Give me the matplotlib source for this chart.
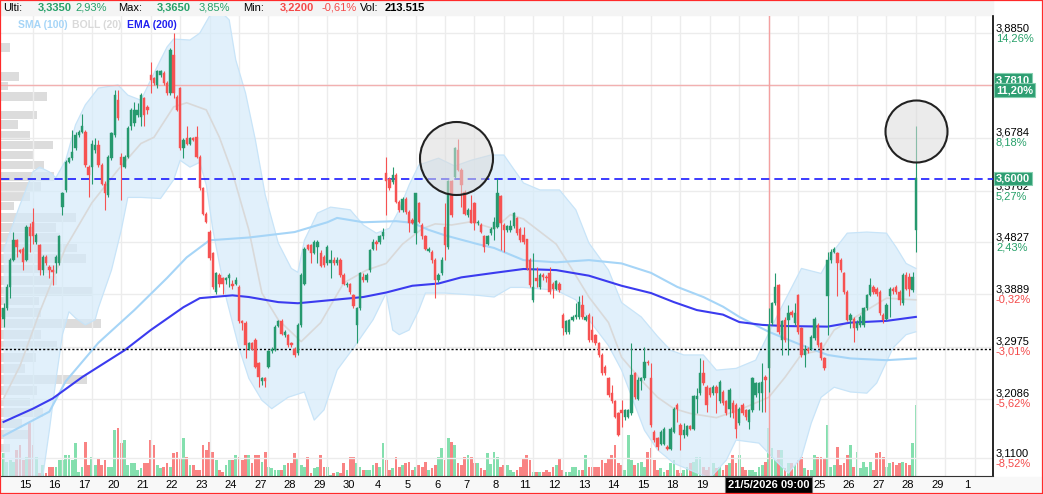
import numpy as np
import matplotlib
matplotlib.use("Agg")
import matplotlib.pyplot as plt
import matplotlib.transforms as mtransforms
from matplotlib.patches import Rectangle
from matplotlib.ticker import NullLocator

plt.rcParams['font.family'] = ['Liberation Sans', 'DejaVu Sans']

W, H = 1043, 494

# hourly candles, 9 bars per session; the first bar sits 9 bars before the "15" session
first_bar = -9
bars_per_day = 9

opens = [
    3.346, 3.364, 3.402, 3.450, 3.486, 3.468, 3.471, 3.450, 3.511,
    3.520, 3.483, 3.477, 3.432, 3.456, 3.437, 3.433, 3.444, 3.444,
    3.548, 3.579, 3.632, 3.639, 3.658, 3.683, 3.690, 3.690, 3.623,
    3.623, 3.655, 3.664, 3.626, 3.591, 3.570, 3.639, 3.683, 3.751,
    3.642, 3.623, 3.642, 3.700, 3.706, 3.722, 3.719, 3.755, 3.738,
    3.801, 3.794, 3.781, 3.801, 3.804, 3.784, 3.765, 3.841, 3.758,
    3.775, 3.658, 3.677, 3.667, 3.677, 3.680, 3.642, 3.582, 3.535,
    3.502, 3.462, 3.393, 3.423, 3.417, 3.414, 3.417, 3.408, 3.408,
    3.402, 3.341, 3.338, 3.294, 3.304, 3.309, 3.269, 3.239, 3.243,
    3.263, 3.289, 3.291, 3.333, 3.342, 3.317, 3.317, 3.304, 3.294,
    3.286, 3.335, 3.408, 3.477, 3.477, 3.463, 3.474, 3.463, 3.456,
    3.444, 3.444, 3.451, 3.444, 3.451, 3.423, 3.405, 3.407, 3.387,
    3.335, 3.364, 3.420, 3.414, 3.432, 3.471, 3.483, 3.483, 3.493,
    3.610, 3.599, 3.593, 3.607, 3.557, 3.542, 3.563, 3.538, 3.523,
    3.499, 3.554, 3.514, 3.493, 3.467, 3.465, 3.450, 3.414, 3.427,
    3.511, 3.474, 3.595, 3.604, 3.655, 3.617, 3.576, 3.532, 3.542,
    3.554, 3.517, 3.514, 3.493, 3.480, 3.499, 3.506, 3.511, 3.568,
    3.514, 3.505, 3.505, 3.512, 3.526, 3.506, 3.496, 3.488, 3.450,
    3.378, 3.417, 3.402, 3.423, 3.420, 3.426, 3.408, 3.399, 3.408,
    3.352, 3.323, 3.323, 3.344, 3.348, 3.349, 3.370, 3.344, 3.352,
    3.326, 3.317, 3.303, 3.283, 3.263, 3.243, 3.218, 3.204, 3.184,
    3.190, 3.178, 3.178, 3.184, 3.252, 3.209, 3.239, 3.243, 3.271,
    3.243, 3.154, 3.143, 3.134, 3.134, 3.129, 3.126, 3.154, 3.198,
    3.165, 3.148, 3.148, 3.163, 3.159, 3.209, 3.218, 3.252, 3.229,
    3.226, 3.218, 3.229, 3.204, 3.220, 3.204, 3.192, 3.201, 3.198,
    3.168, 3.198, 3.190, 3.170, 3.190, 3.215, 3.218, 3.218, 3.246,
    3.260, 3.338, 3.373, 3.405, 3.309, 3.344, 3.344, 3.358, 3.338,
    3.387, 3.329, 3.283, 3.294, 3.294, 3.312, 3.335, 3.303, 3.277,
    3.385, 3.450, 3.465, 3.462, 3.450, 3.426, 3.393, 3.344, 3.346,
    3.329, 3.335, 3.335, 3.364, 3.387, 3.402, 3.399, 3.393, 3.352,
    3.346, 3.385, 3.399, 3.402, 3.393, 3.373, 3.423, 3.420, 3.396,
    3.505,
]
highs = [
    3.373, 3.408, 3.453, 3.502, 3.489, 3.471, 3.474, 3.514, 3.517,
    3.545, 3.499, 3.480, 3.459, 3.459, 3.441, 3.441, 3.459, 3.496,
    3.576, 3.636, 3.642, 3.693, 3.690, 3.693, 3.725, 3.693, 3.626,
    3.674, 3.677, 3.674, 3.629, 3.595, 3.645, 3.690, 3.771, 3.771,
    3.648, 3.645, 3.700, 3.735, 3.748, 3.745, 3.765, 3.758, 3.742,
    3.827, 3.797, 3.811, 3.811, 3.808, 3.788, 3.854, 3.885, 3.761,
    3.778, 3.677, 3.700, 3.680, 3.680, 3.700, 3.645, 3.585, 3.538,
    3.505, 3.465, 3.429, 3.426, 3.420, 3.420, 3.426, 3.414, 3.420,
    3.405, 3.344, 3.341, 3.306, 3.306, 3.312, 3.271, 3.246, 3.246,
    3.291, 3.297, 3.335, 3.344, 3.346, 3.326, 3.320, 3.306, 3.297,
    3.338, 3.426, 3.474, 3.480, 3.480, 3.486, 3.486, 3.468, 3.459,
    3.477, 3.468, 3.456, 3.456, 3.453, 3.426, 3.411, 3.409, 3.390,
    3.367, 3.429, 3.426, 3.426, 3.471, 3.489, 3.486, 3.496, 3.508,
    3.642, 3.604, 3.623, 3.610, 3.560, 3.566, 3.566, 3.542, 3.526,
    3.574, 3.557, 3.517, 3.496, 3.474, 3.468, 3.453, 3.426, 3.456,
    3.554, 3.598, 3.598, 3.661, 3.675, 3.620, 3.579, 3.545, 3.570,
    3.557, 3.523, 3.517, 3.496, 3.496, 3.511, 3.529, 3.601, 3.570,
    3.517, 3.514, 3.523, 3.538, 3.529, 3.511, 3.511, 3.489, 3.453,
    3.462, 3.438, 3.426, 3.426, 3.423, 3.437, 3.411, 3.414, 3.411,
    3.355, 3.344, 3.346, 3.352, 3.373, 3.385, 3.388, 3.352, 3.355,
    3.351, 3.320, 3.306, 3.286, 3.266, 3.246, 3.232, 3.206, 3.187,
    3.206, 3.192, 3.192, 3.303, 3.254, 3.246, 3.246, 3.297, 3.274,
    3.269, 3.156, 3.145, 3.156, 3.162, 3.132, 3.162, 3.195, 3.201,
    3.168, 3.168, 3.165, 3.165, 3.215, 3.226, 3.277, 3.274, 3.232,
    3.229, 3.232, 3.232, 3.240, 3.223, 3.206, 3.226, 3.206, 3.201,
    3.195, 3.201, 3.192, 3.192, 3.246, 3.237, 3.237, 3.269, 3.249,
    3.365, 3.376, 3.426, 3.408, 3.344, 3.349, 3.370, 3.361, 3.373,
    3.390, 3.332, 3.300, 3.297, 3.317, 3.349, 3.338, 3.306, 3.280,
    3.465, 3.471, 3.474, 3.465, 3.453, 3.429, 3.396, 3.355, 3.349,
    3.344, 3.352, 3.367, 3.390, 3.417, 3.405, 3.402, 3.396, 3.355,
    3.373, 3.402, 3.402, 3.405, 3.396, 3.426, 3.429, 3.426, 3.429,
    3.700,
]
lows = [
    3.332, 3.361, 3.382, 3.448, 3.456, 3.462, 3.432, 3.448, 3.465,
    3.480, 3.480, 3.423, 3.423, 3.441, 3.417, 3.405, 3.426, 3.441,
    3.532, 3.576, 3.629, 3.636, 3.655, 3.680, 3.687, 3.623, 3.566,
    3.591, 3.648, 3.623, 3.588, 3.542, 3.566, 3.636, 3.680, 3.712,
    3.560, 3.620, 3.639, 3.693, 3.700, 3.719, 3.700, 3.700, 3.725,
    3.765, 3.781, 3.775, 3.797, 3.781, 3.761, 3.761, 3.755, 3.729,
    3.655, 3.639, 3.664, 3.664, 3.671, 3.639, 3.579, 3.532, 3.517,
    3.450, 3.399, 3.390, 3.402, 3.390, 3.408, 3.402, 3.399, 3.405,
    3.338, 3.326, 3.277, 3.291, 3.291, 3.260, 3.229, 3.232, 3.229,
    3.260, 3.286, 3.289, 3.331, 3.317, 3.314, 3.297, 3.297, 3.280,
    3.283, 3.332, 3.405, 3.468, 3.444, 3.461, 3.444, 3.437, 3.438,
    3.441, 3.417, 3.441, 3.441, 3.420, 3.405, 3.402, 3.390, 3.365,
    3.303, 3.361, 3.411, 3.411, 3.429, 3.468, 3.468, 3.480, 3.489,
    3.532, 3.579, 3.591, 3.554, 3.538, 3.538, 3.535, 3.502, 3.516,
    3.480, 3.517, 3.489, 3.468, 3.465, 3.444, 3.382, 3.411, 3.423,
    3.450, 3.471, 3.529, 3.601, 3.614, 3.548, 3.532, 3.529, 3.517,
    3.505, 3.514, 3.499, 3.465, 3.477, 3.496, 3.486, 3.508, 3.468,
    3.465, 3.502, 3.502, 3.508, 3.496, 3.483, 3.480, 3.432, 3.402,
    3.376, 3.402, 3.399, 3.414, 3.411, 3.390, 3.382, 3.396, 3.393,
    3.317, 3.320, 3.320, 3.341, 3.346, 3.346, 3.346, 3.341, 3.306,
    3.306, 3.300, 3.280, 3.249, 3.249, 3.212, 3.201, 3.176, 3.146,
    3.162, 3.173, 3.176, 3.181, 3.209, 3.206, 3.223, 3.240, 3.266,
    3.162, 3.137, 3.124, 3.132, 3.132, 3.124, 3.124, 3.151, 3.170,
    3.124, 3.143, 3.146, 3.156, 3.156, 3.184, 3.215, 3.232, 3.187,
    3.212, 3.215, 3.184, 3.201, 3.198, 3.181, 3.178, 3.176, 3.143,
    3.165, 3.181, 3.173, 3.159, 3.187, 3.212, 3.190, 3.187, 3.187,
    3.220, 3.335, 3.370, 3.320, 3.283, 3.306, 3.283, 3.349, 3.335,
    3.320, 3.280, 3.263, 3.286, 3.291, 3.309, 3.297, 3.274, 3.257,
    3.317, 3.444, 3.462, 3.385, 3.429, 3.390, 3.341, 3.329, 3.306,
    3.326, 3.332, 3.332, 3.361, 3.385, 3.390, 3.385, 3.352, 3.338,
    3.344, 3.349, 3.390, 3.390, 3.370, 3.370, 3.396, 3.385, 3.393,
    3.465,
]
closes = [
    3.364, 3.402, 3.450, 3.486, 3.474, 3.464, 3.447, 3.511, 3.493,
    3.493, 3.496, 3.432, 3.456, 3.444, 3.432, 3.429, 3.456, 3.493,
    3.573, 3.632, 3.639, 3.651, 3.683, 3.690, 3.700, 3.626, 3.607,
    3.667, 3.664, 3.626, 3.591, 3.573, 3.642, 3.687, 3.761, 3.716,
    3.626, 3.642, 3.696, 3.732, 3.732, 3.732, 3.761, 3.722, 3.732,
    3.791, 3.784, 3.808, 3.808, 3.784, 3.765, 3.851, 3.765, 3.732,
    3.658, 3.674, 3.667, 3.677, 3.674, 3.642, 3.582, 3.535, 3.520,
    3.453, 3.402, 3.426, 3.408, 3.408, 3.417, 3.423, 3.404, 3.414,
    3.341, 3.338, 3.300, 3.303, 3.294, 3.263, 3.246, 3.243, 3.239,
    3.289, 3.293, 3.332, 3.341, 3.320, 3.323, 3.300, 3.300, 3.283,
    3.335, 3.423, 3.471, 3.471, 3.463, 3.483, 3.483, 3.439, 3.441,
    3.474, 3.450, 3.444, 3.451, 3.423, 3.408, 3.408, 3.393, 3.368,
    3.364, 3.426, 3.414, 3.423, 3.468, 3.483, 3.480, 3.493, 3.502,
    3.595, 3.582, 3.607, 3.557, 3.542, 3.563, 3.538, 3.518, 3.518,
    3.573, 3.520, 3.493, 3.471, 3.471, 3.450, 3.414, 3.423, 3.451,
    3.477, 3.595, 3.532, 3.658, 3.617, 3.588, 3.535, 3.542, 3.518,
    3.518, 3.520, 3.502, 3.474, 3.493, 3.506, 3.520, 3.573, 3.518,
    3.505, 3.512, 3.512, 3.537, 3.499, 3.486, 3.483, 3.435, 3.405,
    3.402, 3.413, 3.423, 3.419, 3.417, 3.393, 3.399, 3.413, 3.396,
    3.329, 3.341, 3.344, 3.349, 3.352, 3.376, 3.349, 3.349, 3.309,
    3.309, 3.303, 3.283, 3.252, 3.252, 3.215, 3.204, 3.178, 3.148,
    3.184, 3.190, 3.190, 3.249, 3.212, 3.240, 3.243, 3.271, 3.269,
    3.165, 3.140, 3.129, 3.154, 3.159, 3.126, 3.159, 3.192, 3.192,
    3.148, 3.156, 3.163, 3.159, 3.213, 3.213, 3.252, 3.235, 3.198,
    3.215, 3.229, 3.218, 3.237, 3.201, 3.184, 3.223, 3.184, 3.159,
    3.192, 3.184, 3.178, 3.190, 3.243, 3.235, 3.235, 3.237, 3.240,
    3.335, 3.373, 3.402, 3.323, 3.341, 3.309, 3.355, 3.352, 3.355,
    3.323, 3.283, 3.294, 3.289, 3.314, 3.346, 3.300, 3.277, 3.260,
    3.450, 3.465, 3.471, 3.444, 3.432, 3.393, 3.344, 3.352, 3.329,
    3.338, 3.349, 3.364, 3.387, 3.405, 3.393, 3.390, 3.355, 3.344,
    3.370, 3.399, 3.395, 3.393, 3.379, 3.423, 3.399, 3.399, 3.420,
    3.601,
]
# volume in thousands
volumes = [
    104, 63, 72, 63, 117, 140, 72, 86, 239, 140, 86, 14, 50, 14, 41, 41, 41, 72, 72, 95,
    95, 72, 149, 18, 41, 153, 50, 86, 50, 81, 50, 72, 41, 41, 207, 216, 149, 162, 50, 59,
    59, 27, 36, 59, 59, 162, 140, 50, 36, 41, 59, 41, 104, 108, 81, 171, 86, 50, 50, 27,
    27, 140, 117, 153, 108, 72, 27, 18, 50, 72, 72, 95, 86, 72, 95, 95,
    59, 95, 95, 63, 108, 41, 36, 27, 27, 27, 50, 59, 59, 104, 81, 50, 41, 86, 14, 36,
    41, 95, 41, 41, 5, 14, 18, 14, 59, 27, 86, 86, 59, 41, 27, 27, 27, 50, 59, 41,
    149, 72, 27, 36, 86, 41, 50, 59, 63, 27, 41, 50, 41, 63, 27, 36, 50, 86, 126, 72,
    171, 153, 140, 59, 50, 86, 95, 86, 59, 59, 36, 27, 104,
    54, 108, 86, 41, 50, 50, 27, 18, 27, 41, 81, 95, 72, 18, 18, 18, 18, 27, 18, 41,
    50, 81, 27, 18, 18, 41, 41, 27, 27, 95, 41, 41, 41, 41, 72, 59, 81, 95, 140, 59,
    50, 27, 185, 72, 50, 59, 63, 41, 108, 126, 72, 27, 36, 18, 27, 59, 72, 27, 14, 27,
    41, 59, 63, 86, 86, 41, 27, 41, 59, 36, 41, 27, 50, 59, 95,
    60,
    95, 41, 27, 27, 27, 18, 41, 50, 63, 214, 126, 72, 117, 117, 36, 59, 59, 50, 72, 86,
    36, 27, 27, 95, 86, 86, 81, 230,
    41, 50, 131, 50, 59, 95, 140, 41, 108, 36, 63, 41, 63, 27, 104, 108, 86, 41, 59, 63,
    50, 59, 63, 59, 50, 149, 320,
]

# indicators, read at bar positions
boll_up_x = [-9, -4, 0, 2, 5, 7, 10, 13, 16, 20, 26, 29, 33, 36, 39, 41, 43, 48, 51, 54,
             57, 60, 62, 65, 68, 71, 75, 79, 81, 83, 87, 91, 97, 101, 105, 109, 112, 115,
             118, 124, 129, 134, 140, 144, 150, 155, 161, 166, 170, 176, 180, 186, 191,
             195, 199, 205, 209, 215, 221, 228, 235, 241, 245, 249, 255, 261, 264, 267, 270]
boll_up = [3.468, 3.551, 3.613, 3.622, 3.613, 3.602, 3.635, 3.703, 3.742, 3.775, 3.781,
           3.761, 3.751, 3.791, 3.831, 3.857, 3.873, 3.871, 3.885, 3.920, 3.932, 3.912,
           3.831, 3.765, 3.674, 3.570, 3.481, 3.435, 3.428, 3.486, 3.536, 3.547, 3.542,
           3.514, 3.499, 3.508, 3.542, 3.588, 3.626, 3.639, 3.624, 3.635, 3.645, 3.645,
           3.592, 3.579, 3.579, 3.542, 3.481, 3.432, 3.374, 3.349, 3.315, 3.291, 3.283,
           3.283, 3.257, 3.260, 3.274, 3.356, 3.435, 3.426, 3.468, 3.499, 3.501, 3.499,
           3.473, 3.444, 3.435]
boll_low_x = [-9, -1, 3, 5, 7, 9, 11, 13, 16, 19, 20, 24, 27, 29, 33, 39, 43, 45, 48, 51,
              53, 55, 59, 63, 66, 70, 73, 78, 83, 86, 89, 93, 98, 104, 108, 110, 112, 115,
              118, 120, 126, 136, 141, 146, 150, 160, 166, 170, 176, 180, 187, 191, 196,
              201, 207, 212, 215, 222, 227, 231, 235, 238, 241, 245, 250, 255, 258, 263,
              267, 270]
boll_low = [2.949, 3.011, 3.081, 3.156, 3.240, 3.318, 3.358, 3.347, 3.335, 3.344, 3.365,
            3.432, 3.505, 3.565, 3.565, 3.563, 3.598, 3.635, 3.622, 3.631, 3.588, 3.505,
            3.384, 3.295, 3.243, 3.206, 3.192, 3.211, 3.220, 3.173, 3.190, 3.257, 3.295,
            3.344, 3.391, 3.326, 3.318, 3.326, 3.361, 3.391, 3.391, 3.387, 3.384, 3.401,
            3.401, 3.396, 3.379, 3.344, 3.299, 3.257, 3.156, 3.124, 3.102, 3.091, 3.078,
            3.107, 3.140, 3.135, 3.107, 3.086, 3.112, 3.168, 3.211, 3.228, 3.220, 3.218,
            3.235, 3.295, 3.318, 3.323]
boll_mid_x = [-9, -4, 2, 10, 18, 26, 33, 37, 43, 47, 53, 57, 61, 66, 70, 75, 82, 88, 95,
              102, 108, 113, 119, 123, 128, 134, 141, 146, 150, 160, 165, 170, 176, 180,
              186, 191, 196, 201, 209, 216, 225, 230, 235, 241, 245, 255, 261, 270]
boll_mid = [3.209, 3.264, 3.357, 3.473, 3.555, 3.617, 3.667, 3.679, 3.738, 3.746, 3.732,
            3.679, 3.611, 3.505, 3.391, 3.344, 3.306, 3.339, 3.409, 3.432, 3.444, 3.479,
            3.507, 3.516, 3.514, 3.520, 3.507, 3.533, 3.525, 3.479, 3.432, 3.384, 3.339,
            3.279, 3.240, 3.211, 3.192, 3.184, 3.177, 3.190, 3.211, 3.245, 3.284, 3.291,
            3.326, 3.361, 3.382, 3.379]
sma_x = [-9, 5, 10, 20, 31, 41, 47, 54, 66, 80, 90, 93, 101, 111, 116, 121, 126, 136, 141,
         150, 160, 170, 180, 189, 197, 205, 211, 216, 225, 235, 243, 250, 261, 270]
sma = [3.147, 3.187, 3.238, 3.304, 3.361, 3.418, 3.455, 3.486, 3.491, 3.501, 3.519, 3.527,
       3.519, 3.521, 3.518, 3.505, 3.495, 3.479, 3.472, 3.450, 3.446, 3.450, 3.444, 3.427,
       3.402, 3.384, 3.367, 3.349, 3.323, 3.300, 3.283, 3.277, 3.274, 3.277]
ema_x = [-9, 0, 6, 15, 28, 36, 46, 51, 61, 66, 75, 81, 101, 108, 116, 124, 131, 141, 150,
         160, 170, 180, 189, 196, 203, 211, 216, 223, 230, 243, 250, 261, 270]
ema = [3.170, 3.192, 3.209, 3.245, 3.291, 3.326, 3.366, 3.382, 3.387, 3.384, 3.375, 3.373,
       3.384, 3.392, 3.404, 3.408, 3.419, 3.427, 3.434, 3.432, 3.422, 3.404, 3.391, 3.375,
       3.361, 3.353, 3.340, 3.335, 3.333, 3.332, 3.339, 3.342, 3.349]

# volume profile on the left edge
profile_price = [3.856, 3.798, 3.779, 3.758, 3.722, 3.703, 3.683, 3.664, 3.645, 3.626,
                 3.605, 3.585, 3.567, 3.549, 3.528, 3.509, 3.491, 3.472, 3.453, 3.434,
                 3.413, 3.394, 3.377, 3.357, 3.337, 3.318, 3.299, 3.279, 3.260, 3.241,
                 3.222, 3.203, 3.185, 3.167, 3.149, 3.127]
profile_vol = [9, 18, 7, 46, 36, 17, 29, 52, 32, 43, 53, 40, 29, 13, 75, 55, 59, 76, 85,
               57, 56, 92, 38, 40, 100, 40, 56, 35, 24, 86, 36, 29, 42, 21, 29, 9]

# session labels, one per session start
day_labels = ["15", "16", "17", "20", "21", "22", "23", "24", "27", "28", "29", "30",
              "4", "5", "6", "7", "8", "11", "12", "13", "14", "15", "18", "19",
              "20", "21", "22", "25", "26", "27", "28", "29", "1"]

price_ticks = [3.8850, 3.7810, 3.6784, 3.5762, 3.4827, 3.3889, 3.2975, 3.2086, 3.1100]
price_labels = ["3,8850", "3,7810", "3,6784", "3,5762", "3,4827", "3,3889", "3,2975",
                "3,2086", "3,1100"]
pct_labels = ["14,26%", "11,20%", "8,18%", "5,27%", "2,43%", "-0,32%", "-3,01%",
              "-5,62%", "-8,52%"]

ref_line = 3.7810
target_line = 3.6000
prev_line = 3.293
crosshair_bar = 225
crosshair_label = "21/5/2026 09:00"
circle_x = [129.4, 270]
circle_y = [3.639, 3.691]

GREEN = '#26996e'
RED = '#f65252'
VGREEN = '#84dfae'
VRED = '#f98383'
TXT_GREEN = '#26a069'
TXT_RED = '#f44a4a'
BOX = '#2e9e72'

fig = plt.figure(figsize=(W / 100, H / 100), dpi=100)
fig.patch.set_facecolor('white')


def fx(px):
    return px / W


def fy(py):
    return 1 - py / H


fig.patches.append(Rectangle((0, fy(15)), fx(993), 15 / H, transform=fig.transFigure,
                             color='#f4f4f4', zorder=0))
fig.patches.append(Rectangle((0, 0), 1, 17 / H, transform=fig.transFigure,
                             color='#f8f8f8', zorder=0))

pos = [fx(1), 18 / H, 992 / W, 460 / H]
ax = fig.add_axes(pos)
ax.set_yscale('log')
ax.set_ylim(3.0815, 3.920)
ax.set_xlim(-9.79, 293.58)

axp = fig.add_axes(pos, sharey=ax)
axv = fig.add_axes(pos, sharex=ax)
axp.set_zorder(0)
axv.set_zorder(1)
ax.set_zorder(2)
ax.patch.set_visible(False)
axv.patch.set_visible(False)

# volume profile
axp.barh(profile_price, profile_vol, height=[p * 0.0046 for p in profile_price],
         left=0, color='#dcdcdc')
axp.set_xlim(0, 992)
axp.axis('off')

idx = np.arange(len(closes)) + first_bar
o, hi, lo, c = map(np.array, (opens, highs, lows, closes))
up = c >= o

# volume bars
axv.bar(idx, volumes, width=0.85, color=np.where(up, VGREEN, VRED))
axv.set_ylim(0, 460 * 4.5)
axv.axis('off')

# grid and session labels (the ones under the crosshair tag are hidden by it)
n_days = len(day_labels)
label_pos = [bars_per_day * k - 2.45 for k in range(n_days)]
shown = [t if abs(p - crosshair_bar) > 14 else '' for p, t in zip(label_pos, day_labels)]
ax.set_xticks(label_pos)
ax.set_xticklabels(shown, fontsize=8)
ax.set_xticks([bars_per_day * k for k in range(n_days)], minor=True)
ax.tick_params(axis='x', which='both', length=0, pad=3)
ax.set_yticks(price_ticks)
ax.yaxis.set_minor_locator(NullLocator())
ax.tick_params(axis='y', which='both', length=0, labelleft=False, labelright=False)
ax.grid(True, which='minor', axis='x', color='#ececec', lw=1)
ax.grid(True, which='major', axis='y', color='#ececec', lw=1)
ax.set_axisbelow(True)

# bollinger band
ax.fill(np.r_[boll_up_x, boll_low_x[::-1]], np.r_[boll_up, boll_low[::-1]],
        color='#d5ebfa', alpha=0.7, lw=0, zorder=1)
ax.plot(boll_up_x, boll_up, color='#c8e4f8', lw=0.9, zorder=1.5)
ax.plot(boll_low_x, boll_low, color='#c8e4f8', lw=0.9, zorder=1.5)
ax.plot(boll_mid_x, boll_mid, color='#d9d9d9', lw=1.2, zorder=2)
ax.plot(sma_x, sma, color='#a6d5f7', lw=1.5, zorder=2)
ax.plot(ema_x, ema, color='#3b3bef', lw=1.5, zorder=2.2)

# reference lines
ax.axhline(ref_line, color='#f2b0b0', lw=1, zorder=2.5)
ax.axhline(target_line, color='#1a1aff', lw=1.2, dashes=(5, 3), zorder=3)
ax.axhline(prev_line, color='black', lw=1, dashes=(1.5, 1.5), zorder=3)
ax.axvline(crosshair_bar, color='#f4a0a0', lw=1, zorder=2.5)

# candles
col = np.where(up, GREEN, RED)
ax.vlines(idx, lo, hi, colors=col, lw=0.8, zorder=4)
ax.bar(idx, np.abs(c - o), bottom=np.minimum(o, c), width=0.72, color=col,
       edgecolor=col, linewidth=0.3, zorder=5)

# drawn circles
for cx, cy, d in zip(circle_x, circle_y, [73, 62]):
    ax.plot([cx], [cy], 'o', ms=d * 0.72, mfc=(0.86, 0.86, 0.86, 0.55), mec='#222222',
            mew=1.5, zorder=6)

for s in ['left', 'top']:
    ax.spines[s].set_visible(False)
ax.spines['right'].set_color('black')
ax.spines['right'].set_linewidth(1.2)
ax.spines['bottom'].set_color('#333333')

# right price scale
rt = mtransforms.blended_transform_factory(ax.transAxes, ax.transData)
xr = 1 + 3 / 992
for v, pl, pc in zip(price_ticks, price_labels, pct_labels):
    if v == ref_line:
        box = dict(boxstyle='square,pad=0.15', fc=BOX, ec='#86cfb0', lw=0.8)
        ax.text(xr, v, pl, transform=rt, ha='left', va='bottom', fontsize=8,
                color='white', fontweight='bold', bbox=box, zorder=10)
        ax.text(xr, v, pc, transform=rt, ha='left', va='top', fontsize=8,
                color='white', fontweight='bold', bbox=box, zorder=10)
        continue
    ax.text(xr, v, pl, transform=rt, ha='left', va='bottom', fontsize=8, color='black')
    ax.text(xr, v, pc, transform=rt, ha='left', va='top', fontsize=8,
            color=TXT_RED if pc.startswith('-') else TXT_GREEN)
ax.text(xr, target_line, "3,6000", transform=rt, ha='left', va='center', fontsize=8,
        color='white', fontweight='bold', zorder=11,
        bbox=dict(boxstyle='square,pad=0.15', fc=BOX, ec='#86cfb0', lw=0.8))

# crosshair date tag
bt = mtransforms.blended_transform_factory(ax.transData, ax.transAxes)
ax.text(crosshair_bar, -9 / 460, crosshair_label, transform=bt, ha='center', va='center',
        fontsize=8, color='white', fontweight='bold', zorder=12,
        bbox=dict(boxstyle='square,pad=0.25', fc='black', ec='#777777', lw=0.8))

# header values
header = [
    (3, "Ulti:", 'black', 'normal'), (38, "3,3350", TXT_GREEN, 'bold'),
    (75, "2,93%", TXT_GREEN, 'normal'), (118, "Max:", 'black', 'normal'),
    (157, "3,3650", TXT_GREEN, 'bold'), (199, "3,85%", TXT_GREEN, 'normal'),
    (243, "Min:", 'black', 'normal'), (280, "3,2200", TXT_RED, 'bold'),
    (322, "-0,61%", TXT_RED, 'normal'), (360, "Vol:", 'black', 'normal'),
    (385, "213.515", 'black', 'bold'),
]
for px, t, cl, fw in header:
    fig.text(fx(px), fy(8), t, color=cl, fontweight=fw, fontsize=8, va='center', ha='left')

for px, t, cl in [(18, "SMA (100)", '#a6d5f7'), (72, "BOLL (20)", '#d9d9d9'),
                  (127, "EMA (200)", '#2020f0')]:
    fig.text(fx(px), fy(25), t, color=cl, fontweight='bold', fontsize=7.5, va='center',
             ha='left')

fig.patches.append(Rectangle((0, 0), 1, 1, transform=fig.transFigure, fill=False,
                             ec='#ff2a2a', lw=1.6, zorder=20))

fig.savefig('out.png', dpi=100)
